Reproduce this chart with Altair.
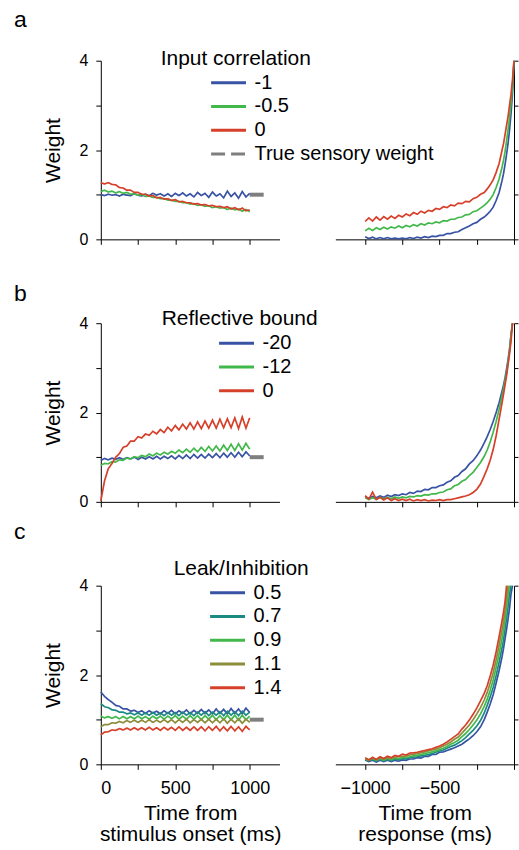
import altair as alt
import pandas as pd

FONT = "Liberation Sans"
TRUE_NAME = "True sensory weight"
GREY = "#7f7f7f"

# sampling grids (ms)
T_L = list(range(0, 1001, 25))
T_R = list(range(-1000, -199, 25)) + [-180, -160, -140, -120, -100, -80, -70, -60, -50, -40, -30, -20, -10, 0]
TRUE_T = [1000, 1100]
TRUE_W = [1.0, 1.0]

X_L_TICKS = [0, 250, 500, 750, 1000]
X_R_TICKS = [-1000, -750, -500, -250, 0]
Y_TICKS = [0, 1, 2, 3, 4]

# ---------------- panel a : input correlation ----------------
A_NAMES = ["-1", "-0.5", "0"]
A_COLORS = ["#3953a4", "#42b84a", "#d6402a"]
A_L_BLUE = [1.00, 0.98, 1.01, 0.99, 1.00, 0.97, 1.01, 0.99, 0.98, 1.02, 0.99,
            0.97, 1.01, 0.98, 1.03, 0.99, 1.02, 0.97, 1.02, 0.96, 1.03,
            0.98, 1.04, 0.97, 1.02, 0.95, 1.05, 0.98, 1.03, 0.94, 1.06,
            0.97, 1.02, 0.93, 1.08, 0.96, 1.04, 0.92, 1.07, 0.95, 1.03]
A_L_GREEN = [1.07, 1.10, 1.06, 1.08, 1.04, 1.07, 1.03, 1.05, 1.01, 1.02, 0.99,
             1.00, 0.96, 0.97, 0.94, 0.94, 0.91, 0.91, 0.88, 0.88, 0.85,
             0.85, 0.82, 0.82, 0.79, 0.80, 0.76, 0.77, 0.74, 0.75, 0.71,
             0.73, 0.70, 0.71, 0.67, 0.70, 0.66, 0.68, 0.63, 0.67, 0.62]
A_L_RED = [1.27, 1.24, 1.27, 1.23, 1.22, 1.16, 1.15, 1.10, 1.10, 1.05, 1.05,
           1.01, 1.01, 0.97, 0.98, 0.93, 0.94, 0.90, 0.91, 0.87, 0.89,
           0.84, 0.85, 0.82, 0.82, 0.79, 0.80, 0.77, 0.78, 0.75, 0.76,
           0.73, 0.74, 0.71, 0.73, 0.68, 0.71, 0.66, 0.70, 0.64, 0.66]
A_R_BLUE = [0.06, 0.02, 0.05, 0.01, 0.04, 0.01, 0.04, 0.01, 0.03, 0.01, 0.03,
            0.01, 0.04, 0.02, 0.05, 0.03, 0.06, 0.04, 0.07, 0.06, 0.09,
            0.09, 0.13, 0.13, 0.16, 0.17, 0.22, 0.26, 0.30, 0.35, 0.38, 0.45, 0.50,
            0.56, 0.63, 0.72, 0.87, 1.05, 1.32, 1.48, 1.68, 1.90, 2.15, 2.45, 2.82, 3.28, 4.00]
A_R_GREEN = [0.19, 0.25, 0.20, 0.26, 0.22, 0.27, 0.23, 0.28, 0.25, 0.30, 0.26,
             0.31, 0.28, 0.33, 0.30, 0.35, 0.32, 0.37, 0.35, 0.39, 0.37,
             0.42, 0.41, 0.45, 0.45, 0.49, 0.50, 0.55, 0.56, 0.62, 0.64, 0.70, 0.76,
             0.82, 0.90, 1.00, 1.16, 1.35, 1.62, 1.78, 1.97, 2.20, 2.45, 2.72, 3.05, 3.42, 4.00]
A_R_RED = [0.40, 0.48, 0.41, 0.50, 0.43, 0.51, 0.45, 0.52, 0.47, 0.54, 0.50,
           0.57, 0.53, 0.60, 0.56, 0.63, 0.59, 0.65, 0.63, 0.69, 0.67,
           0.73, 0.71, 0.77, 0.75, 0.81, 0.80, 0.85, 0.84, 0.91, 0.94, 1.01, 1.05,
           1.13, 1.22, 1.33, 1.50, 1.70, 2.00, 2.15, 2.35, 2.55, 2.75, 3.00, 3.25, 3.58, 4.00]

# ---------------- panel b : reflective bound ----------------
B_NAMES = ["-20", "-12", "0"]
B_COLORS = ["#3953a4", "#42b84a", "#d6402a"]
B_L_BLUE = [0.93, 0.97, 0.94, 0.98, 0.95, 0.99, 0.95, 0.99, 0.96, 1.00, 0.95,
            1.00, 0.96, 1.01, 0.96, 1.02, 0.96, 1.02, 0.97, 1.03, 0.96,
            1.04, 0.97, 1.05, 0.97, 1.06, 0.98, 1.06, 0.98, 1.07, 0.99,
            1.08, 0.99, 1.09, 1.00, 1.10, 1.00, 1.11, 1.01, 1.12, 1.03]
B_L_GREEN = [0.82, 0.86, 0.85, 0.90, 0.89, 0.94, 0.93, 0.98, 0.96, 1.01, 0.99,
             1.04, 1.01, 1.07, 1.03, 1.09, 1.05, 1.11, 1.07, 1.13, 1.09,
             1.16, 1.10, 1.18, 1.11, 1.20, 1.12, 1.22, 1.13, 1.24, 1.14,
             1.25, 1.14, 1.27, 1.15, 1.29, 1.15, 1.30, 1.16, 1.31, 1.18]
B_L_RED = [0.02, 0.47, 0.74, 0.86, 1.00, 1.08, 1.22, 1.25, 1.36, 1.36, 1.46,
           1.43, 1.52, 1.49, 1.58, 1.52, 1.62, 1.55, 1.67, 1.59, 1.71,
           1.61, 1.74, 1.63, 1.77, 1.63, 1.79, 1.64, 1.81, 1.65, 1.83,
           1.65, 1.85, 1.66, 1.86, 1.66, 1.88, 1.64, 1.90, 1.65, 1.88]
B_R_BLUE = [0.11, 0.08, 0.12, 0.09, 0.13, 0.10, 0.15, 0.12, 0.16, 0.14, 0.18,
            0.16, 0.21, 0.19, 0.24, 0.23, 0.28, 0.27, 0.32, 0.32, 0.36,
            0.38, 0.44, 0.47, 0.55, 0.59, 0.68, 0.74, 0.85, 0.92, 1.03, 1.16, 1.32,
            1.46, 1.62, 1.80, 2.00, 2.22, 2.48, 2.62, 2.78, 2.97, 3.18, 3.42, 3.75, 4.00, None]
B_R_GREEN = [0.09, 0.05, 0.09, 0.06, 0.10, 0.07, 0.10, 0.07, 0.11, 0.08, 0.11,
             0.09, 0.12, 0.11, 0.14, 0.13, 0.16, 0.15, 0.18, 0.18, 0.21,
             0.22, 0.27, 0.29, 0.36, 0.39, 0.46, 0.50, 0.59, 0.66, 0.77, 0.88, 1.02,
             1.16, 1.34, 1.56, 1.80, 2.07, 2.38, 2.54, 2.72, 2.89, 3.12, 3.38, 3.72, 4.00, None]
B_R_RED = [0.14, 0.06, 0.22, 0.05, 0.10, 0.04, 0.09, 0.03, 0.07, 0.03, 0.06,
           0.03, 0.06, 0.02, 0.05, 0.03, 0.05, 0.02, 0.04, 0.03, 0.05,
           0.03, 0.05, 0.05, 0.07, 0.09, 0.11, 0.13, 0.16, 0.21, 0.28, 0.40, 0.58,
           0.74, 0.93, 1.17, 1.48, 1.85, 2.22, 2.42, 2.62, 2.82, 3.07, 3.32, 3.60, 4.00, None]

# ---------------- panel c : leak / inhibition ----------------
C_NAMES = ["0.5", "0.7", "0.9", "1.1", "1.4"]
C_COLORS = ["#3953a4", "#1b8a83", "#42b84a", "#8c8c3a", "#d6402a"]
C_L_BLUE = [1.62, 1.52, 1.45, 1.39, 1.32, 1.30, 1.24, 1.24, 1.19, 1.21, 1.16,
            1.20, 1.14, 1.20, 1.15, 1.19, 1.13, 1.20, 1.14, 1.21, 1.13,
            1.20, 1.14, 1.22, 1.13, 1.21, 1.14, 1.23, 1.14, 1.22, 1.13,
            1.24, 1.14, 1.23, 1.13, 1.25, 1.14, 1.24, 1.13, 1.26, 1.16]
C_L_TEAL = [1.36, 1.29, 1.27, 1.22, 1.21, 1.17, 1.17, 1.13, 1.15, 1.11, 1.15,
            1.10, 1.15, 1.10, 1.16, 1.10, 1.15, 1.09, 1.16, 1.10, 1.16,
            1.09, 1.17, 1.10, 1.16, 1.09, 1.17, 1.10, 1.18, 1.09, 1.17,
            1.10, 1.18, 1.09, 1.19, 1.10, 1.18, 1.09, 1.19, 1.10, 1.17]
C_L_GREEN = [1.08, 1.04, 1.07, 1.03, 1.07, 1.02, 1.07, 1.02, 1.07, 1.02, 1.08,
             1.02, 1.07, 1.01, 1.08, 1.02, 1.08, 1.01, 1.08, 1.02, 1.09,
             1.01, 1.08, 1.01, 1.09, 1.01, 1.09, 1.00, 1.09, 1.01, 1.10,
             1.00, 1.09, 1.00, 1.10, 1.00, 1.10, 0.99, 1.10, 1.00, 1.08]
C_L_OLIVE = [0.84, 0.89, 0.89, 0.93, 0.92, 0.96, 0.93, 0.98, 0.94, 0.99, 0.94,
             0.99, 0.94, 1.00, 0.94, 0.99, 0.94, 1.00, 0.94, 1.00, 0.93,
             1.00, 0.94, 1.01, 0.93, 1.00, 0.94, 1.01, 0.93, 1.01, 0.93,
             1.01, 0.93, 1.02, 0.92, 1.01, 0.93, 1.02, 0.92, 1.01, 0.94]
C_L_RED = [0.66, 0.72, 0.73, 0.77, 0.76, 0.80, 0.77, 0.81, 0.77, 0.82, 0.77,
           0.82, 0.77, 0.83, 0.77, 0.82, 0.76, 0.83, 0.77, 0.83, 0.76,
           0.84, 0.76, 0.83, 0.76, 0.84, 0.76, 0.84, 0.75, 0.84, 0.76,
           0.85, 0.75, 0.84, 0.75, 0.85, 0.75, 0.84, 0.74, 0.85, 0.77]
C_R_BLUE = [0.10, 0.06, 0.09, 0.05, 0.09, 0.06, 0.09, 0.06, 0.09, 0.07, 0.10,
            0.09, 0.12, 0.12, 0.15, 0.14, 0.18, 0.18, 0.22, 0.22, 0.27,
            0.28, 0.31, 0.34, 0.37, 0.41, 0.45, 0.51, 0.57, 0.64, 0.73, 0.84, 1.00,
            1.17, 1.35, 1.56, 1.82, 2.10, 2.42, 2.60, 2.82, 3.02, 3.25, 3.50, 3.82, 4.00, None]
C_R_TEAL = [0.11, 0.08, 0.11, 0.07, 0.11, 0.08, 0.11, 0.08, 0.12, 0.10, 0.13,
            0.12, 0.15, 0.16, 0.17, 0.19, 0.20, 0.22, 0.24, 0.27, 0.30,
            0.32, 0.36, 0.40, 0.43, 0.48, 0.53, 0.60, 0.68, 0.76, 0.86, 0.98, 1.15,
            1.32, 1.51, 1.72, 1.99, 2.29, 2.62, 2.80, 3.03, 3.26, 3.52, 3.82, 4.00, None, None]
C_R_GREEN = [0.12, 0.09, 0.13, 0.09, 0.13, 0.09, 0.14, 0.10, 0.14, 0.13, 0.15,
             0.16, 0.17, 0.19, 0.20, 0.22, 0.24, 0.26, 0.28, 0.30, 0.33,
             0.36, 0.40, 0.45, 0.49, 0.54, 0.62, 0.69, 0.78, 0.88, 0.99, 1.13, 1.30,
             1.46, 1.66, 1.89, 2.17, 2.48, 2.82, 3.01, 3.24, 3.51, 3.80, 4.00, None, None, None]
C_R_OLIVE = [0.13, 0.10, 0.14, 0.10, 0.15, 0.11, 0.15, 0.13, 0.16, 0.17, 0.18,
             0.19, 0.21, 0.23, 0.24, 0.26, 0.28, 0.30, 0.32, 0.34, 0.37,
             0.41, 0.45, 0.50, 0.56, 0.61, 0.70, 0.79, 0.88, 1.00, 1.13, 1.27, 1.44,
             1.61, 1.82, 2.05, 2.34, 2.67, 3.02, 3.21, 3.44, 3.75, 4.00, None, None, None, None]
C_R_RED = [0.15, 0.10, 0.16, 0.11, 0.17, 0.13, 0.18, 0.15, 0.20, 0.18, 0.23,
           0.21, 0.25, 0.26, 0.27, 0.29, 0.31, 0.33, 0.35, 0.38, 0.41,
           0.45, 0.50, 0.56, 0.62, 0.68, 0.79, 0.88, 0.99, 1.12, 1.26, 1.42, 1.59,
           1.76, 1.98, 2.22, 2.52, 2.86, 3.22, 3.42, 3.65, 4.00, None, None, None, None, None]

W = 179
H = 179
LINE_W = 1.7


def to_df(times, names, series):
    rows = []
    for n, vals in zip(names, series):
        assert len(vals) == len(times), (n, len(vals), len(times))
        for t, v in zip(times, vals):
            if v is not None:
                rows.append({"t": t, "w": v, "s": n})
    return pd.DataFrame(rows)


def left_panel(names, colors, series, legend_title, lx, ly, soff, show_true,
               bottom, letter, letter_offset):
    df = to_df(T_L, names, series)
    tdf = pd.DataFrame({"t": TRUE_T, "w": TRUE_W, "s": [TRUE_NAME] * len(TRUE_T)})
    dom = names + [TRUE_NAME]
    cscale = alt.Scale(domain=dom, range=colors + [GREY])
    dscale = alt.Scale(domain=dom, range=[[1, 0]] * len(names) + [[14, 6]])
    leg = alt.Legend(
        title=legend_title, orient="none", legendX=lx, legendY=ly,
        values=dom if show_true else names,
        symbolType="stroke", symbolSize=1225, symbolStrokeWidth=3,
        clipHeight=22, rowPadding=1.8, titlePadding=3, padding=0,
        labelFontSize=20, titleFontSize=21, titleFontWeight="normal",
        symbolOffset=soff, labelOffset=7, labelLimit=300,
        labelFont=FONT, titleFont=FONT, labelColor="black", titleColor="black",
    )
    if bottom:
        xaxis = alt.Axis(values=X_L_TICKS, format="d",
                         labelExpr="datum.value % 500 == 0 ? datum.label : ''")
        xtitle = ["Time from", "stimulus onset (ms)"]
    else:
        xaxis = alt.Axis(values=X_L_TICKS, labels=False)
        xtitle = None
    x = alt.X("t:Q", scale=alt.Scale(domain=[0, 1200], nice=False, zero=False),
              axis=xaxis, title=xtitle)
    y = alt.Y("w:Q", scale=alt.Scale(domain=[0, 4], nice=False),
              axis=alt.Axis(values=Y_TICKS, format="d",
                            labelExpr="datum.value % 2 == 0 ? datum.label : ''"),
              title="Weight")
    color = alt.Color("s:N", scale=cscale, legend=leg)
    dash = alt.StrokeDash("s:N", scale=dscale, legend=leg)
    grey = alt.Chart(tdf).mark_line(strokeWidth=4).encode(x=x, y=y, color=color, strokeDash=dash)
    lines = alt.Chart(df).mark_line(strokeWidth=LINE_W).encode(x=x, y=y, color=color, strokeDash=dash)
    return alt.layer(grey, lines).properties(
        width=W, height=H,
        title=alt.TitleParams(text=letter, anchor="start", frame="group", dx=-87,
                              offset=letter_offset, baseline="alphabetic",
                              fontSize=23, fontWeight="normal", font=FONT, color="black"),
    )


def right_panel(names, colors, series, bottom):
    df = to_df(T_R, names, series)
    if bottom:
        xaxis = alt.Axis(values=X_R_TICKS, format="d",
                         labelExpr="datum.value % 500 == 0 && datum.value != 0 ? datum.label : ''")
        xtitle = ["Time from", "response (ms)"]
    else:
        xaxis = alt.Axis(values=X_R_TICKS, labels=False)
        xtitle = None
    x = alt.X("t:Q", scale=alt.Scale(domain=[-1200, 0], nice=False, zero=False),
              axis=xaxis, title=xtitle)
    y = alt.Y("w:Q", scale=alt.Scale(domain=[0, 4], nice=False),
              axis=alt.Axis(orient="right", values=Y_TICKS, labels=False, tickSize=4),
              title=None)
    color = alt.Color("s:N", scale=alt.Scale(domain=names, range=colors), legend=None)
    return alt.Chart(df).mark_line(strokeWidth=LINE_W).encode(x=x, y=y, color=color).properties(
        width=W, height=H)


la = left_panel(A_NAMES, A_COLORS, [A_L_BLUE, A_L_GREEN, A_L_RED], "Input correlation",
                60, -13, 49, True, False, "a", -2)
ra = right_panel(A_NAMES, A_COLORS, [A_R_BLUE, A_R_GREEN, A_R_RED], False)
lb = left_panel(B_NAMES, B_COLORS, [B_L_BLUE, B_L_GREEN, B_L_RED], "Reflective bound",
                61, -15, 56, False, False, "b", -16)
rb = right_panel(B_NAMES, B_COLORS, [B_R_BLUE, B_R_GREEN, B_R_RED], False)
lc = left_panel(C_NAMES, C_COLORS, [C_L_BLUE, C_L_TEAL, C_L_GREEN, C_L_OLIVE, C_L_RED],
                "Leak/Inhibition", 73, -28, 35, False, True, "c", -4)
rc = right_panel(C_NAMES, C_COLORS, [C_R_BLUE, C_R_TEAL, C_R_GREEN, C_R_OLIVE, C_R_RED], True)

chart = (
    alt.concat(la, ra, lb, rb, lc, rc, columns=2,
               spacing={"row": 84, "column": 56}, bounds="flush")
    .resolve_scale(color="independent", strokeDash="independent")
    .properties(padding={"left": 14, "top": 8, "right": 0, "bottom": 0})
    .configure(font=FONT)
    .configure_view(stroke=None)
    .configure_axis(grid=False, domainColor="black", tickColor="black",
                    labelColor="black", titleColor="black", tickSize=5,
                    domainWidth=1, tickWidth=1,
                    labelFont=FONT, titleFont=FONT, titleFontWeight="normal",
                    labelFontSize=16, titleFontSize=21)
    .configure_axisX(labelFontSize=18, labelPadding=10, titlePadding=5, titleLineHeight=21)
    .configure_axisY(labelPadding=8, titlePadding=15)
)

chart.save("out.html", embed_options={"renderer": "svg", "actions": False})
